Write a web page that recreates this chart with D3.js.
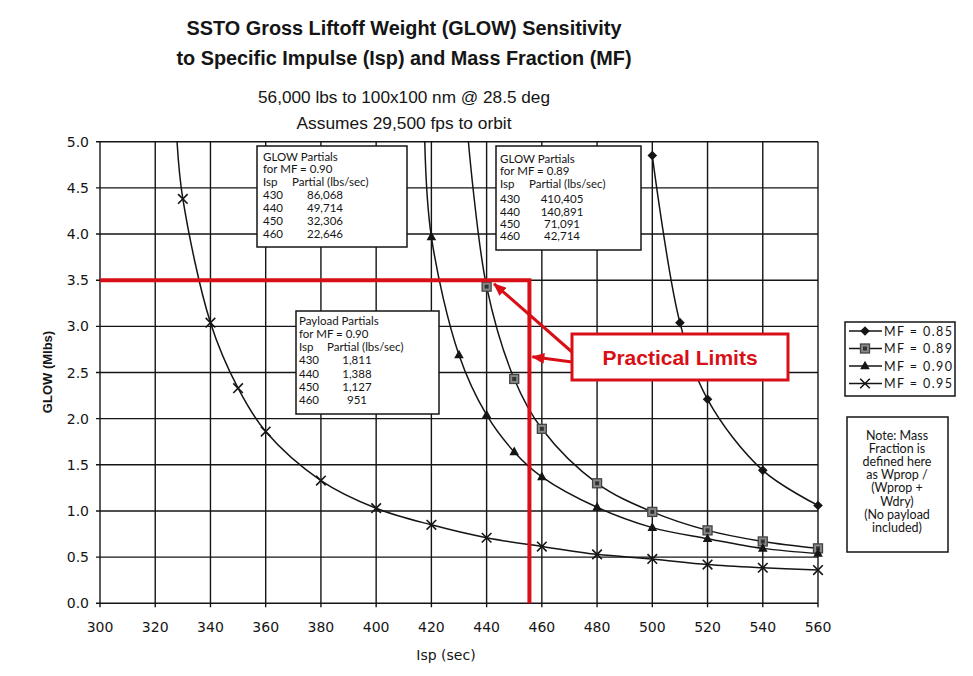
<!DOCTYPE html>
<html><head><meta charset="utf-8">
<script src="https://cdn.jsdelivr.net/npm/d3@7"></script>
<style>
html,body{margin:0;padding:0;background:#fff;}
svg{display:block;}
</style></head>
<body>
<svg id="chart" width="973" height="676"></svg>
<script>
// ---------- DATA ----------
const titleLines = ["SSTO Gross Liftoff Weight (GLOW) Sensitivity", "to Specific Impulse (Isp) and Mass Fraction (MF)"];
const subtitleLines = ["56,000 lbs to 100x100 nm @ 28.5 deg", "Assumes 29,500 fps to orbit"];
const xTicks = [300,320,340,360,380,400,420,440,460,480,500,520,540,560];
const yTicks = [0,0.5,1,1.5,2,2.5,3,3.5,4,4.5,5];
const xLabel = "Isp (sec)";
const yLabel = "GLOW (Mlbs)";

const seriesNames = ["MF = 0.85","MF = 0.89","MF = 0.90","MF = 0.95"];
const isp085 = [500,510,520,540,560];
const glow085 = [4.85,3.04,2.21,1.44,1.06];
const isp089 = [440,450,460,480,500,520,540,560];
const glow089 = [3.43,2.43,1.89,1.30,0.99,0.79,0.67,0.595];
const isp090 = [420,430,440,450,460,480,500,520,540,560];
const glow090 = [3.97,2.69,2.04,1.64,1.37,1.04,0.82,0.70,0.595,0.54];
const isp095 = [330,340,350,360,380,400,420,440,460,480,500,520,540,560];
const glow095 = [4.38,3.04,2.33,1.86,1.33,1.03,0.85,0.71,0.615,0.53,0.48,0.42,0.385,0.36];
// where each curve leaves the top of the chart (line only, no marker)
const topIsp = [null, 433.4, 417.6, 327.9];
const topGlow = [null, 5.0, 5.0, 5.0];

const limitIsp = 455.5;
const limitGlow = 3.5;
const limitText = "Practical Limits";

const glow090Title = ["GLOW Partials","for MF = 0.90"];
const glow089Title = ["GLOW Partials","for MF = 0.89"];
const payloadTitle = ["Payload Partials","for MF = 0.90"];
const tableHeader = ["Isp","Partial (lbs/sec)"];
const tableIsp = [430,440,450,460];
const glow090Partials = ["86,068","49,714","32,306","22,646"];
const glow089Partials = ["410,405","140,891","71,091","42,714"];
const payloadPartials = ["1,811","1,388","1,127","951"];

const noteLines = ["Note: Mass","Fraction is","defined here","as Wprop /","(Wprop +","Wdry)","(No payload","included)"];

// ---------- LAYOUT ----------
const svg = d3.select("#chart");
const RED = "#d80f16";
const INK = "#151515";
const x = d3.scaleLinear().domain([300,560]).range([100,818]);
const y = d3.scaleLinear().domain([0,5]).range([603.3,141.7]);

// titles
const tl = [[35,435],[65,455]];
titleLines.forEach((t,i)=>{
  svg.append("text").attr("x",404).attr("y",tl[i][0]).attr("text-anchor","middle")
    .attr("font-family","Liberation Sans, Arial, sans-serif").attr("font-weight","bold")
    .attr("font-size",20).attr("textLength",tl[i][1]).attr("lengthAdjust","spacingAndGlyphs")
    .attr("fill",INK).text(t);
});
const sl = [[103,292],[129,215]];
subtitleLines.forEach((t,i)=>{
  svg.append("text").attr("x",404).attr("y",sl[i][0]).attr("text-anchor","middle")
    .attr("font-family","Liberation Sans, Arial, sans-serif")
    .attr("font-size",17).attr("textLength",sl[i][1]).attr("lengthAdjust","spacingAndGlyphs")
    .attr("fill",INK).text(t);
});

// grid
const grid = svg.append("g").attr("stroke",INK).attr("stroke-width",1.4);
xTicks.forEach(v=>{
  grid.append("line").attr("x1",x(v)).attr("x2",x(v)).attr("y1",y(5)).attr("y2",y(0)+4);
});
yTicks.forEach(v=>{
  grid.append("line").attr("x1",x(300)-4).attr("x2",x(560)).attr("y1",y(v)).attr("y2",y(v));
});

// tick labels
const tickFont = "DejaVu Sans, Verdana, sans-serif";
svg.append("g").selectAll("text").data(yTicks).join("text")
  .attr("x",89).attr("y",d=>y(d)+5).attr("text-anchor","end")
  .attr("font-family",tickFont).attr("font-size",14).attr("fill",INK)
  .text(d=>d3.format(".1f")(d));
svg.append("g").selectAll("text").data(xTicks).join("text")
  .attr("x",d=>x(d)).attr("y",632).attr("text-anchor","middle")
  .attr("font-family",tickFont).attr("font-size",14).attr("fill",INK)
  .text(d=>d);
svg.append("text").attr("x",446).attr("y",660).attr("text-anchor","middle")
  .attr("font-family",tickFont).attr("font-size",14).attr("fill",INK).text(xLabel);
svg.append("text").attr("transform","translate(52,372) rotate(-90)").attr("text-anchor","middle")
  .attr("font-family","Liberation Sans, Arial, sans-serif").attr("font-weight","bold").attr("font-size",13).attr("fill",INK).text(yLabel);

// clip
svg.append("clipPath").attr("id","plotclip").append("rect")
  .attr("x",x(300)).attr("y",y(5)-2).attr("width",x(560)-x(300)+6).attr("height",y(0)-y(5)+4);

// series
const allIsp = [isp085,isp089,isp090,isp095];
const allGlow = [glow085,glow089,glow090,glow095];
const line = d3.line().x(d=>x(d[0])).y(d=>y(d[1])).curve(d3.curveCatmullRom.alpha(0.5));
const curves = svg.append("g").attr("clip-path","url(#plotclip)");
allIsp.forEach((xs,i)=>{
  let pts = xs.map((v,j)=>[v,allGlow[i][j]]);
  if (topIsp[i]!==null) pts.unshift([topIsp[i],topGlow[i]]);
  curves.append("path").attr("d",line(pts)).attr("fill","none").attr("stroke",INK).attr("stroke-width",1.5);
});

function drawMarker(g, type, cx, cy){
  if(type===0){
    const s=4.8;
    g.append("path").attr("d",`M${cx},${cy-s}L${cx+s},${cy}L${cx},${cy+s}L${cx-s},${cy}Z`).attr("fill",INK);
  } else if(type===1){
    g.append("rect").attr("x",cx-4.5).attr("y",cy-4.5).attr("width",9).attr("height",9).attr("fill","#8a8a8a").attr("stroke","#444").attr("stroke-width",1.3);
    g.append("rect").attr("x",cx-2).attr("y",cy-2).attr("width",4).attr("height",4).attr("fill","#333");
  } else if(type===2){
    const s=4.8;
    g.append("path").attr("d",`M${cx},${cy-s-0.5}L${cx+s},${cy+s*0.7}L${cx-s},${cy+s*0.7}Z`).attr("fill",INK);
  } else {
    const s=4.8;
    g.append("path").attr("d",`M${cx-s},${cy-s}L${cx+s},${cy+s}M${cx-s},${cy+s}L${cx+s},${cy-s}`).attr("stroke",INK).attr("stroke-width",1.6).attr("fill","none");
  }
}
const marks = svg.append("g");
allIsp.forEach((xs,i)=>{
  xs.forEach((v,j)=>drawMarker(marks,i,x(v),y(allGlow[i][j])));
});

// tables
const boxFont = "Lato, 'Open Sans', sans-serif";
function table(left, top, w, h, titles, vals, textX, partX, valX, baselines){
  const g = svg.append("g");
  g.append("rect").attr("x",left).attr("y",top).attr("width",w).attr("height",h).attr("fill","#fff").attr("stroke",INK).attr("stroke-width",1.5);
  const tx = (t,xx,yy,anchor)=>g.append("text").attr("x",xx).attr("y",yy).attr("text-anchor",anchor||"start")
    .attr("font-family",boxFont).attr("font-size",11.5).attr("fill",INK).text(t);
  tx(titles[0],textX,baselines[0]);
  tx(titles[1],textX,baselines[1]);
  tx(tableHeader[0],textX,baselines[2]);
  tx(tableHeader[1],partX,baselines[2]);
  tableIsp.forEach((v,k)=>{
    tx(v,textX,baselines[3+k]);
    tx(vals[k],valX,baselines[3+k],"middle");
  });
}
table(257,146,150,101,glow090Title,glow090Partials,263,292,325,[161,173,186,199,212,225,238]);
table(496,146,145,104,glow089Title,glow089Partials,500,529,562,[163,175,188,203,216,228,240]);
table(296,311,143,103,payloadTitle,payloadPartials,299,327,357,[325,338,351,364,378,391,404]);

// legend
const lg = svg.append("g");
lg.append("rect").attr("x",845).attr("y",322).attr("width",110).attr("height",74).attr("fill","#fff").attr("stroke",INK).attr("stroke-width",1.5);
seriesNames.forEach((n,i)=>{
  const ly = 331 + i*17.5;
  lg.append("line").attr("x1",849).attr("x2",882).attr("y1",ly).attr("y2",ly).attr("stroke",INK).attr("stroke-width",1.5);
  drawMarker(lg,i,865,ly);
  lg.append("text").attr("x",884).attr("y",ly+4.5).attr("font-family",boxFont).attr("font-size",12.5)
    .attr("textLength",68).attr("lengthAdjust","spacing").attr("fill",INK).text(n);
});

// note
const ng = svg.append("g");
ng.append("rect").attr("x",847).attr("y",417).attr("width",101).attr("height",135).attr("fill","#fff").attr("stroke",INK).attr("stroke-width",1.5);
noteLines.forEach((t,i)=>{
  ng.append("text").attr("x",897).attr("y",440+i*13.1).attr("text-anchor","middle")
    .attr("font-family",boxFont).attr("font-size",12.5).attr("fill",INK).text(t);
});

// practical limit lines
svg.append("path")
  .attr("d",`M${x(300)},${y(limitGlow)}L${x(limitIsp)},${y(limitGlow)}L${x(limitIsp)},${y(0)}`)
  .attr("fill","none").attr("stroke",RED).attr("stroke-width",4);

// arrows
const defs = svg.append("defs");
defs.append("marker").attr("id","arrow").attr("viewBox","0 0 12 10").attr("refX",11).attr("refY",5)
  .attr("markerWidth",4.5).attr("markerHeight",3.6).attr("orient","auto")
  .append("path").attr("d","M0,0L12,5L0,10Z").attr("fill",RED);
const boxL = 572, boxT = 334, boxW = 216, boxH = 46;
svg.append("line").attr("x1",boxL).attr("y1",352).attr("x2",x(442.7)).attr("y2",y(3.46))
  .attr("stroke",RED).attr("stroke-width",3).attr("marker-end","url(#arrow)");
svg.append("line").attr("x1",boxL).attr("y1",362).attr("x2",x(limitIsp)+3).attr("y2",y(2.67))
  .attr("stroke",RED).attr("stroke-width",3).attr("marker-end","url(#arrow)");
svg.append("rect").attr("x",boxL).attr("y",boxT).attr("width",boxW).attr("height",boxH)
  .attr("fill","#fff").attr("stroke",RED).attr("stroke-width",3);
svg.append("text").attr("x",boxL+boxW/2).attr("y",boxT+boxH/2+7.5).attr("text-anchor","middle")
  .attr("font-family","Liberation Sans, Arial, sans-serif").attr("font-weight","bold").attr("font-size",21)
  .attr("fill",RED).text(limitText);
</script>
</body></html>
